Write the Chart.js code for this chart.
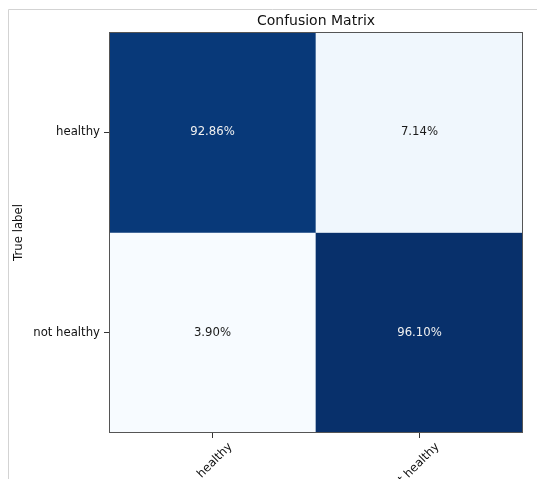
<!DOCTYPE html>
<html>
<head>
<meta charset="utf-8">
<script src="https://cdn.jsdelivr.net/npm/chart.js@4"></script>
<style>
  html, body { margin: 0; padding: 0; background: #ffffff; }
  #wrap { width: 537px; height: 479px; position: relative; }
</style>
</head>
<body>
<div id="wrap"><canvas id="c" width="537" height="479"></canvas></div>
<script>
// ---- data ----
const predictedLabels = ["healthy", "not healthy"];
const trueLabels = ["healthy", "not healthy"];
const rowHealthy = [92.86, 7.14];      // true = healthy
const rowNotHealthy = [3.90, 96.10];   // true = not healthy
const chartTitle = "Confusion Matrix";
const yAxisTitle = "True label";

const rows = [rowHealthy, rowNotHealthy];
const allVals = rows.flat();
const vMin = Math.min(...allVals), vMax = Math.max(...allVals);

// matplotlib "Blues" colormap stops
const bluesStops = ["#f7fbff","#deebf7","#c6dbef","#9ecae1","#6baed6","#4292c6","#2171b5","#08519c","#08306b"];
function hexToRgb(h){ return [parseInt(h.substr(1,2),16),parseInt(h.substr(3,2),16),parseInt(h.substr(5,2),16)]; }
function blues(v){
  let t = (v - vMin) / (vMax - vMin);
  t = Math.max(0, Math.min(1, t));
  const pos = t * (bluesStops.length - 1);
  const i = Math.min(Math.floor(pos), bluesStops.length - 2);
  const f = pos - i;
  const a = hexToRgb(bluesStops[i]), b = hexToRgb(bluesStops[i+1]);
  const c = a.map((x, k) => Math.round(x + (b[k] - x) * f));
  return `rgb(${c[0]},${c[1]},${c[2]})`;
}
const threshold = (vMin + vMax) / 2;

const FONT = "'DejaVu Sans', sans-serif";

const datasets = rows.map((row, r) => ({
  label: trueLabels[r],
  data: row.map(() => [r, r + 1]),
  values: row,
  backgroundColor: row.map(v => blues(v)),
  borderWidth: 0,
  barPercentage: 1,
  categoryPercentage: 1,
  grouped: false
}));

const overlay = {
  id: 'overlay',
  beforeDraw(chart) {
    const ctx = chart.ctx;
    ctx.save();
    ctx.strokeStyle = '#d3d3d3';
    ctx.lineWidth = 1;
    ctx.beginPath();
    ctx.moveTo(8.5, 479);
    ctx.lineTo(8.5, 9.5);
    ctx.lineTo(537, 9.5);
    ctx.stroke();
    ctx.restore();
  },
  afterDatasetsDraw(chart) {
    const ctx = chart.ctx;
    const a = chart.chartArea;
    ctx.save();
    // cell value texts
    ctx.font = "11.7px " + FONT;
    ctx.textAlign = 'center';
    ctx.textBaseline = 'middle';
    chart.data.datasets.forEach((ds, i) => {
      const meta = chart.getDatasetMeta(i);
      meta.data.forEach((el, j) => {
        const v = ds.values[j];
        ctx.fillStyle = v > threshold ? '#f0f0f0' : '#1a1a1a';
        ctx.fillText(v.toFixed(2) + '%', el.x, (el.y + el.base) / 2);
      });
    });
    // plot frame
    ctx.strokeStyle = '#555555';
    ctx.lineWidth = 1;
    ctx.strokeRect(Math.round(a.left) + 0.5, Math.round(a.top) + 0.5,
                   Math.round(a.right - a.left) - 1, Math.round(a.bottom - a.top) - 1);
    ctx.restore();
  }
};

new Chart(document.getElementById('c'), {
  type: 'bar',
  data: { labels: predictedLabels, datasets },
  options: {
    responsive: false,
    animation: false,
    devicePixelRatio: 1,
    layout: { padding: { left: 0, right: 14, top: 0, bottom: 0 } },
    plugins: {
      legend: { display: false },
      tooltip: { enabled: false },
      title: {
        display: true,
        text: chartTitle,
        fullSize: false,
        color: '#111',
        font: { family: FONT, size: 14, weight: 'normal', lineHeight: 1.2 },
        padding: { top: 12.6, bottom: 2.6 }
      }
    },
    scales: {
      x: {
        type: 'category',
        offset: true,
        grid: { display: true, drawOnChartArea: false, drawTicks: true, tickLength: 5, offset: false, color: '#333' },
        border: { display: false },
        ticks: {
          minRotation: 45, maxRotation: 45, autoSkip: false,
          padding: 2, labelOffset: 18,
          color: '#111', font: { family: FONT, size: 11.7 }
        },
        afterFit(s) { s.height = 46; }
      },
      y: {
        type: 'linear',
        min: 0, max: 2,
        reverse: true,
        grid: { display: true, drawOnChartArea: false, drawTicks: true, tickLength: 5, color: '#333' },
        border: { display: false },
        afterBuildTicks(s) { s.ticks = trueLabels.map((_, i) => ({ value: i + 0.5 })); },
        ticks: {
          padding: 4,
          color: '#111',
          font: { family: FONT, size: 11.7 },
          callback: (v) => trueLabels[Math.round(v - 0.5)]
        },
        title: {
          display: true, text: yAxisTitle, color: '#111',
          font: { family: FONT, size: 11.7 },
          padding: { top: 11.7, bottom: 0 }
        },
        afterFit(s) { s.width = 109; }
      }
    }
  },
  plugins: [overlay]
});
</script>
</body>
</html>
